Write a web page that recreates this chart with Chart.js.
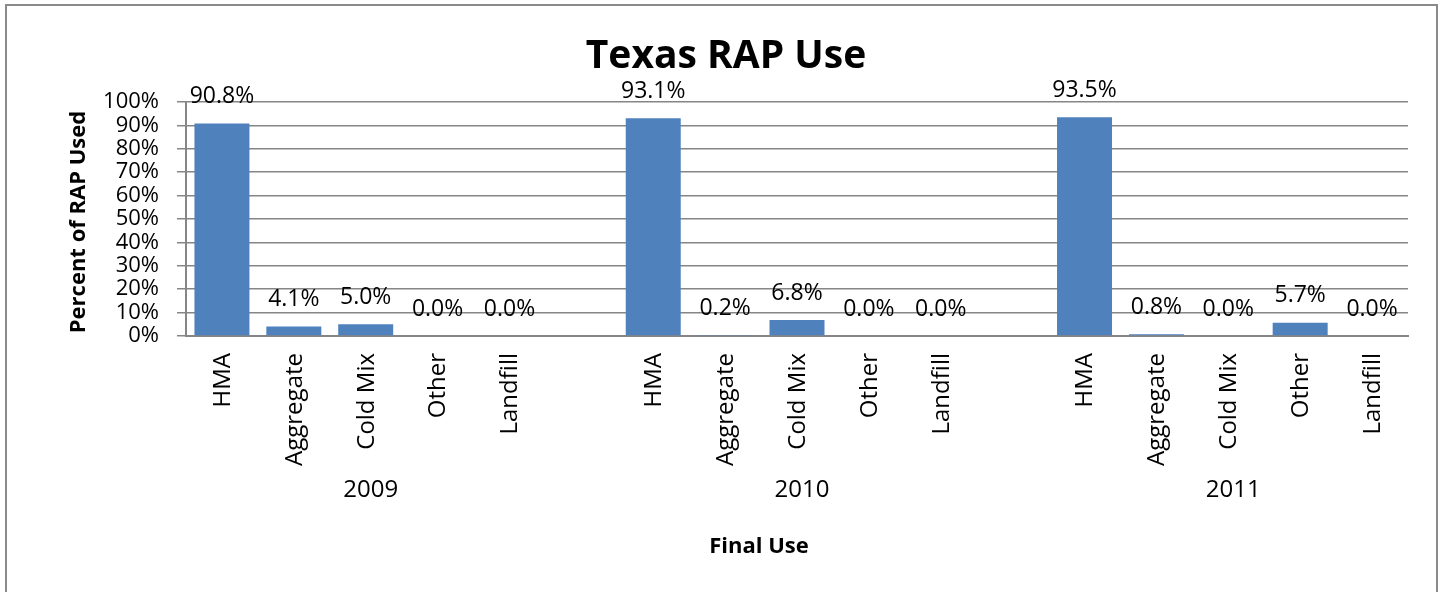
<!DOCTYPE html>
<html>
<head>
<meta charset="utf-8">
<title>Texas RAP Use</title>
<script src="https://cdn.jsdelivr.net/npm/chart.js@4.4.1/dist/chart.umd.min.js"></script>
<style>
    html, body { margin: 0; padding: 0; background: #ffffff; }
    #grafico { display: block; }
</style>
</head>
<body>
<canvas id="grafico" width="1445" height="592"></canvas>
<script>
// Datos (porcentaje del RAP usado)
const anios = ['2009', '2010', '2011'];
const usos = ['HMA', 'Aggregate', 'Cold Mix', 'Other', 'Landfill'];
const valores2009 = [90.8, 4.1, 5.0, 0.0, 0.0];
const valores2010 = [93.1, 0.2, 6.8, 0.0, 0.0];
const valores2011 = [93.5, 0.8, 0.0, 5.7, 0.0];
const ticksY = [0, 10, 20, 30, 40, 50, 60, 70, 80, 90, 100];

const fuente = "'Open Sans', 'DejaVu Sans', sans-serif";
const gris = '#868686';

// Armar las categorías: cada año con sus usos y una categoría vacía entre años
const series = [valores2009, valores2010, valores2011];
const etiquetas = [];
const datos = [];
const grupos = [];
series.forEach((vals, g) => {
    if (g > 0) {
        etiquetas.push('');
        datos.push(null);
    }
    const inicio = etiquetas.length;
    usos.forEach((uso, i) => {
        etiquetas.push(uso);
        datos.push(vals[i]);
    });
    grupos.push({ anio: anios[g], desde: inicio, hasta: etiquetas.length - 1 });
});

// Plugin para marco, títulos, etiquetas rotadas y valores sobre las barras
const textosPlugin = {
    id: 'textos',
    beforeDraw(chart) {
        const ctx = chart.ctx;
        ctx.save();
        ctx.fillStyle = '#ffffff';
        ctx.fillRect(0, 0, chart.width, chart.height);
        ctx.strokeStyle = '#8a8a8a';
        ctx.lineWidth = 2;
        ctx.strokeRect(6, 5, 1431, 620);
        ctx.restore();
    },
    afterDraw(chart) {
        const ctx = chart.ctx;
        const escalaX = chart.scales.x;
        const area = chart.chartArea;
        ctx.save();
        ctx.fillStyle = '#000000';

        // Título
        ctx.font = 'bold 39px ' + fuente;
        ctx.textAlign = 'center';
        ctx.textBaseline = 'middle';
        ctx.fillText('Texas RAP Use', 726, 57);

        // Título eje Y
        ctx.save();
        ctx.translate(79, 222);
        ctx.rotate(-Math.PI / 2);
        ctx.font = 'bold 22px ' + fuente;
        ctx.fillText('Percent of RAP Used', 0, 0);
        ctx.restore();

        // Etiquetas de categoría rotadas
        ctx.font = '24px ' + fuente;
        etiquetas.forEach((txt, i) => {
            if (!txt) return;
            const x = escalaX.getPixelForValue(i);
            ctx.save();
            ctx.translate(x + 1, area.bottom + 17);
            ctx.rotate(-Math.PI / 2);
            ctx.textAlign = 'right';
            ctx.textBaseline = 'middle';
            ctx.fillText(txt, 0, 0);
            ctx.restore();
        });

        // Años
        ctx.font = '24px ' + fuente;
        ctx.textAlign = 'center';
        grupos.forEach(gr => {
            const x = (escalaX.getPixelForValue(gr.desde) + escalaX.getPixelForValue(gr.hasta)) / 2;
            ctx.fillText(gr.anio, x + 5, 490);
        });

        // Título eje X
        ctx.font = 'bold 22px ' + fuente;
        ctx.fillText('Final Use', 759, 547);

        // Valores sobre las barras
        ctx.font = '23px ' + fuente;
        const meta = chart.getDatasetMeta(0);
        meta.data.forEach((barra, i) => {
            if (datos[i] === null) return;
            ctx.fillText(datos[i].toFixed(1) + '%', barra.x, barra.y - 27);
        });

        ctx.restore();
    }
};

const ctx = document.getElementById('grafico').getContext('2d');
window.chart = new Chart(ctx, {
    type: 'bar',
    data: {
        labels: etiquetas,
        datasets: [{
            label: 'Percent of RAP Used',
            data: datos,
            backgroundColor: '#4f81bd',
            borderWidth: 0,
            categoryPercentage: 1.0,
            barPercentage: 0.765
        }]
    },
    options: {
        responsive: false,
        animation: false,
        layout: { padding: { left: 0, top: 102, right: 37, bottom: 0 } },
        plugins: {
            legend: { display: false },
            tooltip: { enabled: false },
            title: { display: false }
        },
        scales: {
            x: {
                offset: true,
                grid: { display: false },
                border: { display: true, color: gris, width: 2 },
                ticks: { display: false },
                afterFit: scale => { scale.height = 256; }
            },
            y: {
                min: 0,
                max: 100,
                afterBuildTicks: scale => {
                    scale.ticks = ticksY.map(v => ({ value: v }));
                },
                grid: { color: gris, lineWidth: 1.5, tickLength: 9, drawTicks: true },
                border: { display: true, color: gris, width: 2 },
                ticks: {
                    autoSkip: false,
                    color: '#000000',
                    padding: 18,
                    font: { family: fuente, size: 22 },
                    callback: v => v + '%'
                },
                afterFit: scale => { scale.width = 186; }
            }
        }
    },
    plugins: [textosPlugin]
});
</script>
</body>
</html>
